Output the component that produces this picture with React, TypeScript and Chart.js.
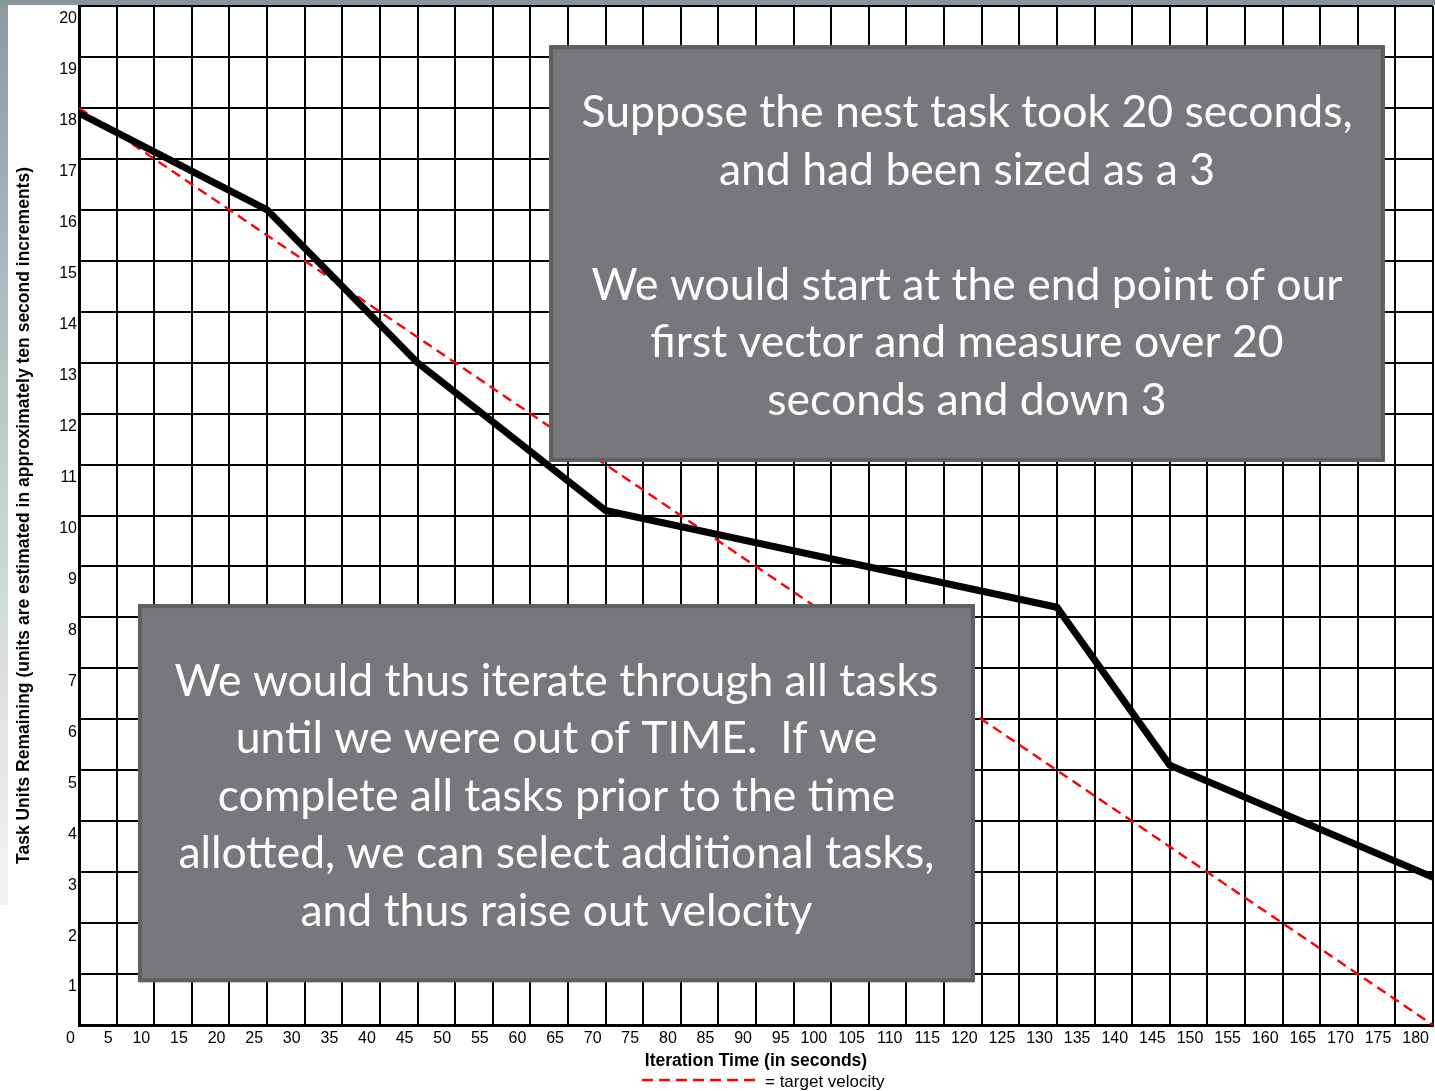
import React, { useEffect, useRef } from 'react';
import { Chart, registerables } from 'chart.js';

Chart.register(...registerables);

// ---- data ----
const actualTimes = [0, 25, 45, 70, 130, 145, 180];
const actualRemaining = [17.9, 16, 13, 10.1, 8.2, 5.1, 2.9];
const targetTimes = [0, 180];
const targetRemaining = [18, 0];

const xTitle = 'Iteration Time (in seconds)';
const yTitle = 'Task Units Remaining (units are estimated in approximately ten second increments)';
const legendText = '= target velocity';

const box1Lines = [
  'Suppose the nest task took 20 seconds,',
  'and had been sized as a 3',
  '',
  'We would start at the end point of our',
  'first vector and measure over 20',
  'seconds and down 3',
];
const box2Lines = [
  'We would thus iterate through all tasks',
  'until we were out of TIME.  If we',
  'complete all tasks prior to the time',
  'allotted, we can select additional tasks,',
  'and thus raise out velocity',
];

const W = 1435;
const H = 1091;
const FAMILY = '"Liberation Sans", Arial, sans-serif';
const TICK_FONT = { family: FAMILY, size: 16 };

type Box = { x0: number; x1: number; y0: number; y1: number; lines: string[] };
const boxes: Box[] = [
  { x0: 62.5, x1: 173.6, y0: 19.23, y1: 11.05, lines: box1Lines },
  { x0: 7.84, x1: 119.1, y0: 8.26, y1: 0.84, lines: box2Lines },
];

const decorPlugin = {
  id: 'decor',
  beforeDraw(chart: any) {
    const ctx = chart.ctx as CanvasRenderingContext2D;
    ctx.save();
    ctx.fillStyle = '#ffffff';
    ctx.fillRect(0, 0, chart.width, chart.height);
    const g = ctx.createLinearGradient(0, 0, 0, 905);
    g.addColorStop(0, '#8a9a9d');
    g.addColorStop(0.5, '#c4cccd');
    g.addColorStop(1, '#f3f3f3');
    ctx.fillStyle = g;
    ctx.fillRect(0, 0, 8, 905);
    ctx.fillStyle = '#869799';
    ctx.fillRect(0, 0, chart.width, 5);
    ctx.restore();
  },
  afterDatasetsDraw(chart: any) {
    const ctx = chart.ctx as CanvasRenderingContext2D;
    const xs = chart.scales.x;
    const ys = chart.scales.y;
    ctx.save();
    boxes.forEach((b) => {
      const left = xs.getPixelForValue(b.x0);
      const right = xs.getPixelForValue(b.x1);
      const top = ys.getPixelForValue(b.y0);
      const bottom = ys.getPixelForValue(b.y1);
      ctx.fillStyle = '#77787c';
      ctx.fillRect(left, top, right - left, bottom - top);
      ctx.strokeStyle = '#5e5f61';
      ctx.lineWidth = 4;
      ctx.strokeRect(left + 2, top + 2, right - left - 4, bottom - top - 4);
      ctx.fillStyle = '#ffffff';
      ctx.font = '44.5px Lato, "Open Sans", sans-serif';
      ctx.textAlign = 'center';
      ctx.textBaseline = 'middle';
      const cx = (left + right) / 2;
      const cy = (top + bottom) / 2 + 3;
      const lh = 57.5;
      const n = b.lines.length;
      b.lines.forEach((t, i) => {
        if (t) ctx.fillText(t, cx, cy + (i - (n - 1) / 2) * lh);
      });
    });
    ctx.restore();
  },
  afterDraw(chart: any) {
    const ctx = chart.ctx as CanvasRenderingContext2D;
    ctx.save();
    ctx.strokeStyle = '#ff0000';
    ctx.lineWidth = 2.5;
    ctx.setLineDash([11, 6]);
    ctx.beginPath();
    ctx.moveTo(642, 1080);
    ctx.lineTo(758, 1080);
    ctx.stroke();
    ctx.setLineDash([]);
    ctx.fillStyle = '#000000';
    ctx.font = '17px ' + FAMILY;
    ctx.textAlign = 'left';
    ctx.textBaseline = 'middle';
    ctx.fillText(legendText, 765, 1082);
    ctx.restore();
  },
};

export default function App() {
  const canvasRef = useRef<HTMLCanvasElement | null>(null);

  useEffect(() => {
    document.body.style.margin = '0';
    const canvas = canvasRef.current;
    if (!canvas) return;
    const chart = new Chart(canvas, {
      type: 'line',
      data: {
        datasets: [
          {
            label: 'actual',
            data: actualTimes.map((t, i) => ({ x: t, y: actualRemaining[i] })),
            borderColor: '#000000',
            borderWidth: 7,
            pointRadius: 0,
            tension: 0,
            fill: false,
          },
          {
            label: 'target velocity',
            data: targetTimes.map((t, i) => ({ x: t, y: targetRemaining[i] })),
            borderColor: '#ff0000',
            borderWidth: 2.4,
            borderDash: [10, 6],
            pointRadius: 0,
            tension: 0,
            fill: false,
          },
        ],
      },
      options: {
        animation: false,
        responsive: true,
        maintainAspectRatio: false,
        layout: { padding: { top: 6, right: 2, left: 0, bottom: 0 } },
        plugins: {
          legend: { display: false },
          tooltip: { enabled: false },
        },
        scales: {
          x: {
            type: 'linear',
            min: 0,
            max: 180,
            afterFit: (scale: any) => {
              scale.height = 66;
              scale.paddingLeft = 0;
              scale.paddingRight = 0;
            },
            ticks: {
              stepSize: 5,
              autoSkip: false,
              maxRotation: 0,
              align: 'end',
              labelOffset: -4,
              padding: 4,
              color: '#000000',
              font: TICK_FONT,
            },
            grid: { color: '#000000', lineWidth: 2, drawTicks: false },
            border: { color: '#000000', width: 3 },
            title: {
              display: true,
              text: xTitle,
              color: '#000000',
              font: { family: FAMILY, size: 17.5, weight: 'bold' },
              padding: { top: 0, bottom: 19.5 },
            },
          },
          y: {
            type: 'linear',
            min: 0,
            max: 20,
            afterFit: (scale: any) => {
              scale.width = 79;
              scale.paddingTop = 0;
              scale.paddingBottom = 0;
            },
            ticks: {
              stepSize: 1,
              autoSkip: false,
              padding: 2,
              labelOffset: 13,
              color: '#000000',
              font: TICK_FONT,
              callback: (v: any) => (Number(v) === 0 ? '' : String(v)),
            },
            grid: { color: '#000000', lineWidth: 2, drawTicks: false },
            border: { color: '#000000', width: 3 },
            title: {
              display: true,
              text: yTitle,
              color: '#000000',
              font: { family: FAMILY, size: 17.5, weight: 'bold' },
              padding: { top: 13.5, bottom: 0 },
            },
          },
        },
      },
      plugins: [decorPlugin],
    });
    return () => chart.destroy();
  }, []);

  return (
    <div style={{ position: 'absolute', left: 0, top: 0, width: W, height: H }}>
      <canvas ref={canvasRef} />
    </div>
  );
}
